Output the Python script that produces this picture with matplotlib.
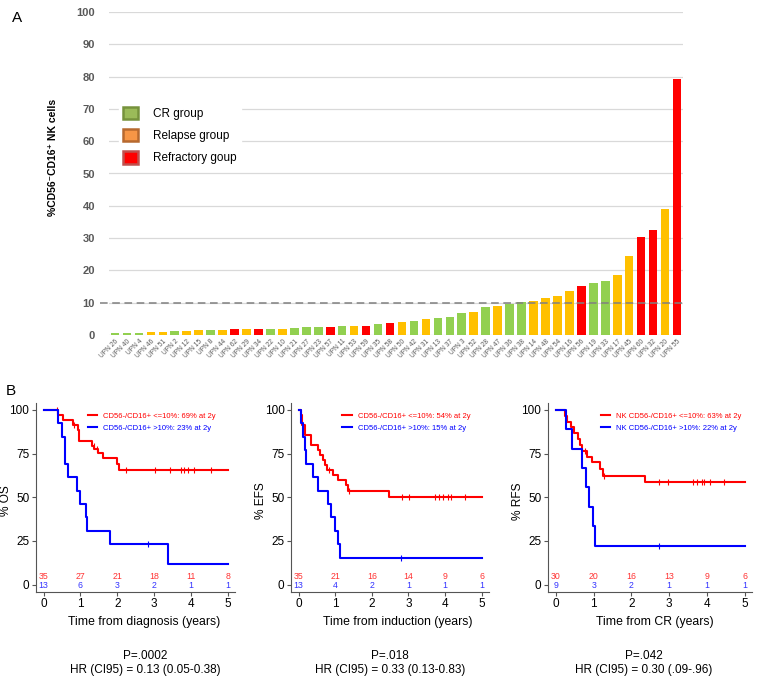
import numpy as np
import matplotlib
matplotlib.use("Agg")
import matplotlib.pyplot as plt
from matplotlib.patches import Patch
from matplotlib.lines import Line2D

plt.rcParams['font.family'] = ['Liberation Sans', 'DejaVu Sans']

# --- Panel A: % CD56-CD16+ NK cells per patient ---
upn = ["UPN 26", "UPN 40", "UPN 4", "UPN 46", "UPN 51", "UPN 2", "UPN 12", "UPN 15",
       "UPN 8", "UPN 44", "UPN 62", "UPN 29", "UPN 34", "UPN 22", "UPN 10", "UPN 21",
       "UPN 27", "UPN 23", "UPN 57", "UPN 11", "UPN 53", "UPN 59", "UPN 35", "UPN 58",
       "UPN 50", "UPN 42", "UPN 31", "UPN 13", "UPN 37", "UPN 3", "UPN 52", "UPN 28",
       "UPN 47", "UPN 36", "UPN 38", "UPN 14", "UPN 48", "UPN 54", "UPN 16", "UPN 56",
       "UPN 19", "UPN 33", "UPN 17", "UPN 45", "UPN 60", "UPN 32", "UPN 20", "UPN 55"]
nk_pct = [0.5, 0.5, 0.7, 0.9, 0.9, 1.1, 1.3, 1.5, 1.7, 1.7, 1.8, 1.8, 1.8, 1.9, 2.0, 2.3,
          2.4, 2.4, 2.4, 2.7, 2.7, 2.8, 3.4, 3.6, 4.1, 4.4, 5.1, 5.2, 5.5, 6.7, 7.2, 8.8,
          8.9, 9.6, 10.1, 10.5, 11.5, 12.1, 13.5, 15.2, 16.2, 16.8, 18.6, 24.5, 30.3, 32.4,
          39.0, 79.2]
group = ["CR", "CR", "CR", "Rel", "Rel", "CR", "Rel", "Rel", "CR", "Rel", "Ref", "Rel",
         "Ref", "CR", "Rel", "CR", "CR", "CR", "Ref", "CR", "Rel", "Ref", "CR", "Ref",
         "Rel", "CR", "Rel", "CR", "CR", "CR", "Rel", "CR", "Rel", "CR", "CR", "Rel",
         "Rel", "Rel", "Rel", "Ref", "CR", "CR", "Rel", "Rel", "Ref", "Ref", "Rel", "Ref"]
bar_colors = {"CR": "#92d050", "Rel": "#ffc000", "Ref": "#ff0000"}
cutoff = 10

# --- Panel B: Kaplan-Meier curves (times in years, survival in %) ---
os_low_t = [0.40, 0.53, 0.79, 0.93, 0.97, 1.32, 1.38, 1.47, 1.62, 1.98, 2.05]
os_low_s = [97.1, 94.3, 91.4, 88.6, 82.1, 79.3, 77.5, 75.5, 72.5, 69.0, 65.6]
os_low_c = [0.35, 0.82, 1.37, 1.44, 2.23, 3.02, 3.43, 3.72, 3.82, 3.93, 4.09, 4.54]
os_high_t = [0.40, 0.51, 0.57, 0.59, 0.65, 0.91, 1.00, 1.14, 1.17, 1.80, 3.39]
os_high_s = [92.3, 84.6, 76.9, 69.2, 61.5, 53.8, 46.2, 38.5, 30.8, 23.1, 11.5]
os_high_c = [2.83]
os_risk_low = [35, 27, 21, 18, 11, 8]
os_risk_high = [13, 6, 3, 2, 1, 1]

efs_low_t = [0.05, 0.10, 0.17, 0.33, 0.52, 0.58, 0.66, 0.71, 0.77, 0.93, 1.06, 1.30, 1.35, 2.46]
efs_low_s = [97.1, 91.4, 85.7, 80.0, 77.1, 74.3, 71.4, 68.6, 65.7, 62.9, 60.0, 57.1, 53.6, 50.2]
efs_low_c = [0.82, 1.37, 2.81, 3.01, 3.73, 3.83, 3.93, 4.09, 4.17, 4.54]
efs_high_t = [0.06, 0.13, 0.17, 0.19, 0.38, 0.53, 0.80, 0.89, 0.98, 1.07, 1.12]
efs_high_s = [92.3, 84.6, 76.9, 69.2, 61.5, 53.8, 46.2, 38.5, 30.8, 23.1, 15.4]
efs_high_c = [2.80]
efs_risk_low = [35, 21, 16, 14, 9, 6]
efs_risk_high = [13, 4, 2, 1, 1, 1]

rfs_low_t = [0.25, 0.30, 0.40, 0.48, 0.59, 0.65, 0.69, 0.83, 0.95, 1.18, 1.25, 2.35]
rfs_low_s = [96.7, 93.3, 90.0, 86.7, 83.3, 80.0, 76.7, 73.3, 70.0, 66.4, 62.4, 58.5]
rfs_low_c = [0.78, 1.27, 2.73, 2.96, 3.62, 3.73, 3.87, 3.91, 4.07, 4.45]
rfs_high_t = [0.26, 0.43, 0.69, 0.80, 0.88, 0.97, 1.03]
rfs_high_s = [88.9, 77.8, 66.7, 55.6, 44.4, 33.3, 22.2]
rfs_high_c = [2.74]
rfs_risk_low = [30, 20, 16, 13, 9, 6]
rfs_risk_high = [9, 3, 2, 1, 1, 1]

RED = "#ff0000"
BLUE = "#0000ff"

fig = plt.figure(figsize=(7.57, 6.78), dpi=100)

# Panel A bar chart
axA = fig.add_axes([109 / 757, 1 - 335 / 678, 574 / 757, 323 / 678])
x = np.arange(len(upn))
axA.bar(x, nk_pct, width=0.72, color=[bar_colors[g] for g in group], zorder=3)
axA.set_xlim(-0.5, len(upn) - 0.5)
axA.set_ylim(0, 100)
axA.set_yticks(np.arange(0, 101, 10))
axA.grid(axis='y', color='#d9d9d9', lw=0.9, zorder=0)
axA.axhline(cutoff, xmin=-0.015, color='#808080', lw=1.1, ls=(0, (5, 3)), zorder=4, clip_on=False)
for s in axA.spines.values():
    s.set_visible(False)
axA.tick_params(axis='both', length=0)
axA.tick_params(axis='y', labelsize=8, labelcolor='#595959', pad=10)
for lab in axA.get_yticklabels():
    lab.set_fontweight('bold')
axA.set_xticks(x)
axA.set_xticklabels(upn, rotation=45, ha='right', rotation_mode='anchor',
                    fontsize=4.8, color='#595959')
axA.tick_params(axis='x', pad=2)

leg_handles = [Patch(facecolor='#9bbb59', edgecolor='#76923c', lw=1.8),
               Patch(facecolor='#f79646', edgecolor='#b7692f', lw=1.8),
               Patch(facecolor='#ff0000', edgecolor='#c0504d', lw=1.8)]
legA = axA.legend(leg_handles, ["CR group", "Relapse group", "Refractory goup"],
                  loc='upper left', bbox_to_anchor=(0.017, 0.722), borderaxespad=0,
                  fontsize=8.5, handlelength=1.27, handleheight=1.27,
                  handletextpad=1.2, labelspacing=0.76, frameon=True,
                  fancybox=False, edgecolor='white', framealpha=1)
legA.set_zorder(5)

fig.text(53 / 757, 1 - 157 / 678, "%CD56\u207bCD16\u207a NK cells", rotation=90,
         ha='center', va='center', fontsize=7.5, fontweight='bold')
fig.text(12 / 757, 1 - 18 / 678, "A", ha='left', va='center', fontsize=11)
fig.text(6 / 757, 1 - 391 / 678, "B", ha='left', va='center', fontsize=11)


# Kaplan-Meier panel
def km_panel(ax, curves, risk_low, risk_high, labels, ylabel, xlabel, xlab_pos, width_px):
    handles = []
    for (t_ev, s_ev, t_cens), col in zip(curves, [RED, BLUE]):
        t = np.array([0] + t_ev + [5])
        s = np.array([100] + s_ev + [s_ev[-1]])
        ax.step(t, s, where='post', color=col, lw=1.5)
        idx = np.searchsorted(t, t_cens, side='right') - 1
        ax.plot(t_cens, s[idx], ls='none', marker='|', ms=4, mew=0.8, color=col)
        handles.append(Line2D([], [], color=col, lw=1.5))
    for i, (nl, nh) in enumerate(zip(risk_low, risk_high)):
        ax.text(i, 4.6, str(nl), ha='center', va='center', fontsize=6.3, color='#ff3333')
        ax.text(i, -0.6, str(nh), ha='center', va='center', fontsize=6.3, color='#3333ff')
    ax.set_xlim(-0.2, 5.2)
    ax.set_ylim(-4, 104)
    ax.set_xticks(range(6))
    ax.set_yticks([0, 25, 50, 75, 100])
    ax.spines['top'].set_visible(False)
    ax.spines['right'].set_visible(False)
    for sp in ['left', 'bottom']:
        ax.spines[sp].set_color('#555555')
        ax.spines[sp].set_linewidth(0.8)
    ax.tick_params(length=3, width=0.8, color='#555555', labelsize=8.5, pad=2)
    ax.set_xlabel(xlabel, fontsize=8.8)
    ax.set_ylabel(ylabel, fontsize=8.6)
    ax.xaxis.set_label_coords(xlab_pos, -0.13)
    # label anchor (its right side) about 25 px left of the axis line
    ax.yaxis.set_label_coords(-24.5 / width_px, 0.48)
    ax.legend(handles, labels, loc='upper left', bbox_to_anchor=(0.258, 0.95),
              borderaxespad=0, borderpad=0, frameon=False, fontsize=5.5,
              handlelength=1.2, handletextpad=0.8, labelspacing=0.6,
              labelcolor='linecolor')


ax1 = fig.add_axes([36.3 / 757, 1 - 591.5 / 678, 198.8 / 757, 188.5 / 678])
km_panel(ax1, [(os_low_t, os_low_s, os_low_c), (os_high_t, os_high_s, os_high_c)],
         os_risk_low, os_risk_high,
         ["CD56-/CD16+ <=10%: 69% at 2y", "CD56-/CD16+ >10%: 23% at 2y"],
         "% OS", "Time from diagnosis (years)", 0.54, 198.8)

ax2 = fig.add_axes([291.4 / 757, 1 - 591.5 / 678, 197.6 / 757, 188.5 / 678])
km_panel(ax2, [(efs_low_t, efs_low_s, efs_low_c), (efs_high_t, efs_high_s, efs_high_c)],
         efs_risk_low, efs_risk_high,
         ["CD56-/CD16+ <=10%: 54% at 2y", "CD56-/CD16+ >10%: 15% at 2y"],
         "% EFS", "Time from induction (years)", 0.54, 197.6)

ax3 = fig.add_axes([548.3 / 757, 1 - 591.5 / 678, 204 / 757, 188.5 / 678])
km_panel(ax3, [(rfs_low_t, rfs_low_s, rfs_low_c), (rfs_high_t, rfs_high_s, rfs_high_c)],
         rfs_risk_low, rfs_risk_high,
         ["NK CD56-/CD16+ <=10%: 63% at 2y", "NK CD56-/CD16+ >10%: 22% at 2y"],
         "% RFS", "Time from CR (years)", 0.52, 204)

# p-values and hazard ratios under each panel
stats = [("P=.0002", "HR (CI95) = 0.13 (0.05-0.38)", 145),
         ("P=.018", "HR (CI95) = 0.33 (0.13-0.83)", 390),
         ("P=.042", "HR (CI95) = 0.30 (.09-.96)", 644)]
for p, hr, xc in stats:
    fig.text(xc / 757, 1 - 656 / 678, p, ha='center', va='center', fontsize=8.5)
    fig.text(xc / 757, 1 - 670 / 678, hr, ha='center', va='center', fontsize=8.5)

fig.savefig("out.png", dpi=100)
